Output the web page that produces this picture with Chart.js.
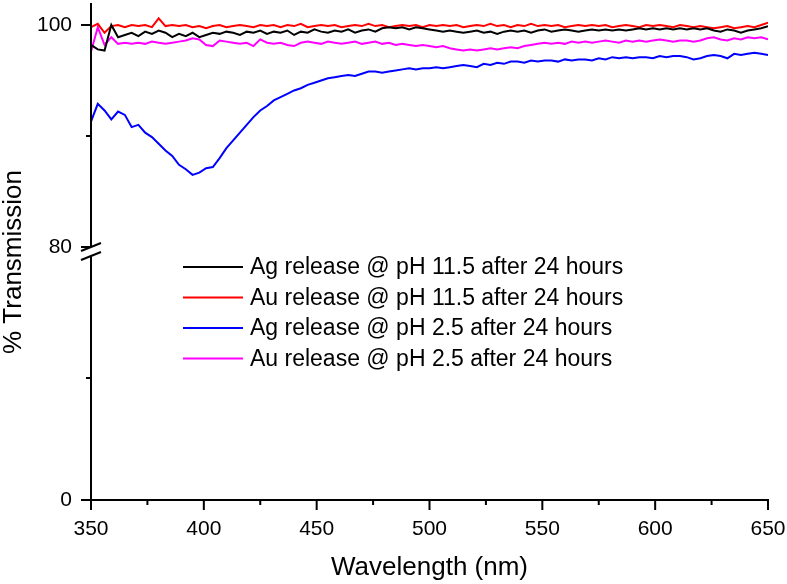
<!DOCTYPE html>
<html>
<head>
<meta charset="utf-8">
<script src="https://cdn.jsdelivr.net/npm/chart.js@4/dist/chart.umd.min.js"></script>
<style>
  html, body { margin: 0; padding: 0; background: #fff; }
  #wrap { width: 787px; height: 584px; }
</style>
</head>
<body>
<div id="wrap"><canvas id="chart" width="787" height="584"></canvas></div>
<script>
var wavelengths = [
  350,353,356,359,362,365,368,371,374,377,
  380,383,386,389,392,395,398,401,404,407,
  410,413,416,419,422,425,428,431,434,437,
  440,443,446,449,452,455,458,461,464,467,
  470,473,476,479,482,485,488,491,494,497,
  500,503,506,509,512,515,518,521,524,527,
  530,533,536,539,542,545,548,551,554,557,
  560,563,566,569,572,575,578,581,584,587,
  590,593,596,599,602,605,608,611,614,617,
  620,623,626,629,632,635,638,641,644,647,
  650
];

var agHigh = [
  98.2,97.8,97.7,100.0,98.9,99.1,99.3,99.0,99.4,99.2,
  99.5,99.3,98.9,99.2,99.0,99.3,98.9,99.1,99.3,99.2,
  99.4,99.3,99.1,99.4,99.3,99.5,99.2,99.4,99.3,99.5,
  99.1,99.4,99.3,99.6,99.4,99.3,99.5,99.4,99.6,99.3,
  99.5,99.6,99.4,99.7,99.8,99.7,99.8,99.6,99.8,99.7,
  99.6,99.5,99.4,99.5,99.4,99.3,99.4,99.5,99.3,99.4,
  99.2,99.4,99.5,99.4,99.5,99.3,99.5,99.6,99.4,99.5,
  99.6,99.5,99.4,99.5,99.6,99.5,99.6,99.5,99.6,99.5,
  99.6,99.7,99.6,99.7,99.6,99.7,99.6,99.7,99.6,99.7,
  99.6,99.7,99.5,99.4,99.6,99.5,99.3,99.5,99.6,99.7,
  99.9
];

var auHigh = [
  99.8,100.1,99.3,99.9,100.0,99.8,100.0,99.9,100.0,99.8,
  100.6,99.9,100.0,99.9,100.0,99.8,99.9,99.7,99.9,100.0,
  99.8,99.9,100.0,99.9,99.8,100.0,99.9,100.0,99.8,100.0,
  99.9,100.1,99.8,99.9,100.0,99.9,100.0,99.8,99.9,100.0,
  99.9,100.1,99.9,100.0,99.8,99.9,100.0,99.9,100.0,99.8,
  100.0,99.9,100.0,99.9,100.0,99.8,99.9,100.0,99.9,100.1,
  99.9,100.0,99.8,100.0,99.9,100.1,99.9,100.0,99.9,100.0,
  99.8,99.9,100.0,99.9,100.0,99.9,100.0,99.8,99.9,100.0,
  99.9,99.8,100.0,99.9,100.0,99.9,99.8,100.0,99.9,99.8,
  99.9,99.8,99.7,99.8,99.9,99.7,99.8,99.9,99.8,100.0,
  100.2
];

var agLow = [
  91.3,92.9,92.3,91.5,92.2,91.9,90.8,91.0,90.3,89.9,
  89.3,88.7,88.2,87.4,87.0,86.5,86.7,87.1,87.2,88.0,
  88.9,89.6,90.3,91.0,91.7,92.3,92.7,93.2,93.5,93.8,
  94.1,94.3,94.6,94.8,95.0,95.2,95.3,95.4,95.5,95.4,
  95.6,95.8,95.8,95.7,95.8,95.9,96.0,96.1,96.0,96.1,
  96.1,96.2,96.1,96.2,96.3,96.4,96.3,96.2,96.5,96.4,
  96.6,96.5,96.7,96.7,96.6,96.8,96.7,96.8,96.8,96.7,
  96.9,96.8,96.9,96.9,96.8,97.0,96.9,97.1,97.0,97.1,
  97.0,97.1,97.1,97.0,97.2,97.1,97.2,97.2,97.1,96.9,
  97.0,97.2,97.3,97.2,97.0,97.4,97.3,97.4,97.5,97.4,
  97.3
];

var auLow = [
  97.6,99.8,98.2,98.9,98.3,98.4,98.3,98.4,98.3,98.5,
  98.4,98.3,98.4,98.5,98.6,98.8,98.7,98.2,98.1,98.6,
  98.5,98.4,98.3,98.4,98.1,98.7,98.4,98.3,98.4,98.2,
  98.1,98.4,98.5,98.4,98.3,98.5,98.4,98.3,98.4,98.5,
  98.3,98.4,98.5,98.3,98.4,98.2,98.3,98.2,98.1,98.2,
  98.1,98.0,98.1,97.9,97.8,97.7,97.8,97.7,97.8,97.9,
  97.8,97.9,98.0,97.9,98.1,98.2,98.3,98.4,98.3,98.4,
  98.3,98.5,98.4,98.5,98.4,98.5,98.6,98.5,98.4,98.6,
  98.5,98.6,98.5,98.6,98.7,98.6,98.5,98.6,98.6,98.5,
  98.6,98.8,98.9,98.7,98.6,98.8,98.7,98.9,98.8,98.9,
  98.7
];

var seriesLabels = [
  'Ag release @ pH 11.5 after 24 hours',
  'Au release @ pH 11.5 after 24 hours',
  'Ag release @ pH 2.5 after 24 hours',
  'Au release @ pH 2.5 after 24 hours'
];
var seriesColors = ['#000000', '#ff0000', '#0000ff', '#ff00ff'];

var xMajor = [350, 400, 450, 500, 550, 600, 650];
var xMinor = [375, 425, 475, 525, 575, 625];
var yMajor = [0, 80, 100];
var yMinor = [40, 90];

// broken axis: 0-80 squeezed, 80-100 stretched, small gap at the break
var BREAK = 80, LOW_K = 0.2748, GAP = 0.81;
function lowPos(v) { return v * LOW_K; }
function toAxis(v) {
  return v <= BREAK ? lowPos(v) : lowPos(BREAK) + GAP + (v - BREAK);
}
var Y_MAX = toAxis(101.98);

var FONT = "'Liberation Sans', Arial, sans-serif";

function pts(ys) {
  return wavelengths.map(function(w, i) { return { x: w, y: toAxis(ys[i]) }; });
}

var all = [agHigh, auHigh, agLow, auLow];
var datasets = all.map(function(ys, i) {
  return {
    label: seriesLabels[i],
    data: pts(ys),
    borderColor: seriesColors[i],
    backgroundColor: seriesColors[i],
    borderWidth: 2,
    pointRadius: 0,
    tension: 0,
    fill: false
  };
});

var decor = {
  id: 'decor',
  afterDraw: function(chart) {
    var ctx = chart.ctx;
    var xs = chart.scales.x, ys = chart.scales.y;
    var a = chart.chartArea;
    var yHi = ys.getPixelForValue(lowPos(BREAK) + GAP);
    var yLo = ys.getPixelForValue(lowPos(BREAK));
    ctx.save();
    ctx.strokeStyle = '#000';
    ctx.lineWidth = 2;
    ctx.lineCap = 'butt';

    // y axis line with gap
    ctx.beginPath();
    ctx.moveTo(a.left, a.top);
    ctx.lineTo(a.left, yHi);
    ctx.moveTo(a.left, yLo);
    ctx.lineTo(a.left, a.bottom + 1);
    ctx.stroke();

    // break marks
    ctx.beginPath();
    ctx.moveTo(a.left - 10, yHi + 4); ctx.lineTo(a.left + 10, yHi - 4);
    ctx.moveTo(a.left - 10, yLo + 4); ctx.lineTo(a.left + 10, yLo - 4);
    ctx.stroke();

    // tick marks
    ctx.beginPath();
    xMajor.forEach(function(v) {
      var p = xs.getPixelForValue(v);
      ctx.moveTo(p, a.bottom); ctx.lineTo(p, a.bottom + 10);
    });
    xMinor.forEach(function(v) {
      var p = xs.getPixelForValue(v);
      ctx.moveTo(p, a.bottom); ctx.lineTo(p, a.bottom + 5);
    });
    yMajor.forEach(function(v) {
      var p = v === BREAK ? yHi : ys.getPixelForValue(toAxis(v));
      ctx.moveTo(a.left - 10, p); ctx.lineTo(a.left, p);
    });
    yMinor.forEach(function(v) {
      var p = ys.getPixelForValue(toAxis(v));
      ctx.moveTo(a.left - 5, p); ctx.lineTo(a.left, p);
    });
    ctx.stroke();

    // y title
    ctx.fillStyle = '#000';
    ctx.font = '26px ' + FONT;
    ctx.textAlign = 'center';
    ctx.textBaseline = 'middle';
    ctx.translate(14, 262);
    ctx.rotate(-Math.PI / 2);
    ctx.fillText('% Transmission', 0, 0);
    ctx.restore();

    // legend
    ctx.save();
    ctx.font = '23px ' + FONT;
    ctx.textAlign = 'left';
    ctx.textBaseline = 'middle';
    chart.data.datasets.forEach(function(ds, i) {
      var y = 267 + i * 30.5;
      ctx.strokeStyle = ds.borderColor;
      ctx.lineWidth = 2;
      ctx.beginPath();
      ctx.moveTo(183, y);
      ctx.lineTo(243, y);
      ctx.stroke();
      ctx.fillStyle = '#000';
      ctx.fillText(ds.label, 250, y + 1);
    });
    ctx.restore();
  }
};

new Chart(document.getElementById('chart').getContext('2d'), {
  type: 'line',
  data: { datasets: datasets },
  options: {
    responsive: false,
    animation: false,
    layout: { padding: { top: 3, right: 19, left: 0, bottom: 0 } },
    plugins: { legend: { display: false }, tooltip: { enabled: false } },
    scales: {
      x: {
        type: 'linear',
        min: 350,
        max: 650,
        grid: { display: false, drawTicks: false },
        border: { display: true, color: '#000', width: 2 },
        afterBuildTicks: function(s) { s.ticks = xMajor.map(function(v) { return { value: v }; }); },
        afterFit: function(s) { s.height = 84; s.paddingLeft = 0; s.paddingRight = 0; },
        ticks: { color: '#000', font: { family: FONT, size: 21 }, padding: 17, maxRotation: 0 },
        title: {
          display: true,
          text: 'Wavelength (nm)',
          color: '#000',
          font: { family: FONT, size: 26 },
          padding: { top: 0, bottom: 1 }
        }
      },
      y: {
        type: 'linear',
        min: 0,
        max: Y_MAX,
        grid: { display: false, drawTicks: false },
        border: { display: false },
        afterBuildTicks: function(s) {
          s.ticks = yMajor.map(function(v) {
            return { value: v === BREAK ? lowPos(BREAK) + GAP : toAxis(v) };
          });
        },
        afterFit: function(s) { s.width = 91; s.paddingTop = 0; s.paddingBottom = 0; },
        ticks: {
          color: '#000',
          font: { family: FONT, size: 21 },
          padding: 19,
          callback: function(val, i) { return String(yMajor[i]); }
        }
      }
    }
  },
  plugins: [decor]
});
</script>
</body>
</html>
